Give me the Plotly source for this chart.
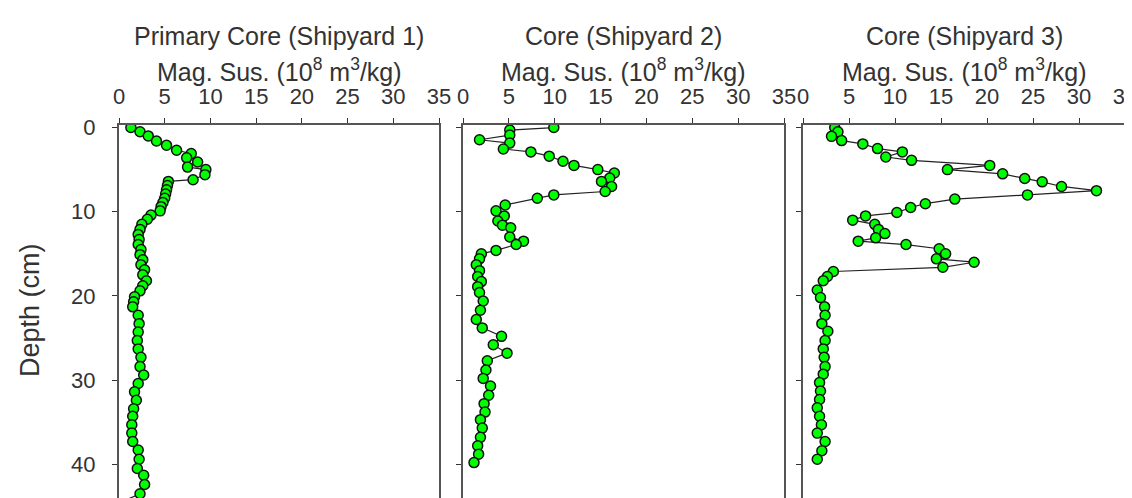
import plotly.graph_objects as go

# ---- data ----
titles = ["Primary Core (Shipyard 1)", "Core (Shipyard 2)", "Core (Shipyard 3)"]
x_label = "Mag. Sus. (10<sup>8</sup> m<sup>3</sup>/kg)"
y_label = "Depth (cm)"
x_ticks = [0, 5, 10, 15, 20, 25, 30, 35]
y_ticks = [0, 10, 20, 30, 40]

depth1 = [0.0, 0.5, 1.0, 1.6, 2.1, 2.7, 3.1, 3.6, 4.1, 4.7, 5.0, 5.6, 6.2, 6.4, 6.9, 7.4, 7.9, 8.4, 8.9, 9.4,
          9.9, 10.4, 10.9, 11.5, 12.1, 12.7, 13.3, 13.9, 14.5, 15.1, 15.7, 16.3, 16.9, 17.5, 18.2, 18.8, 19.4, 20.1, 20.7, 21.3,
          22.3, 23.3, 24.3, 25.3, 26.3, 27.3, 28.4, 29.4, 30.4, 31.4, 32.4, 33.4, 34.3, 35.3, 36.3, 37.3, 38.3, 39.4, 40.5, 41.3,
          42.4, 43.5, 44.6]
magsus1 = [1.3, 2.3, 3.2, 4.1, 5.2, 6.3, 7.9, 7.4, 8.6, 7.5, 9.5, 9.4, 8.1, 5.4, 5.3, 5.2, 5.1, 5.0, 4.8, 4.6,
           4.5, 3.5, 3.1, 2.5, 2.3, 2.1, 2.2, 2.1, 2.4, 2.3, 2.6, 2.4, 2.8, 2.6, 3.0, 2.6, 2.3, 1.7, 1.6, 1.5,
           2.1, 2.2, 2.1, 2.0, 2.1, 2.4, 2.3, 2.7, 2.1, 1.7, 1.9, 1.6, 1.5, 1.4, 1.4, 1.5, 2.1, 2.2, 2.0, 2.7,
           2.8, 2.3, 0.0]

depth2 = [0.0, 0.3, 0.9, 1.45, 1.85, 2.55, 2.9, 3.4, 4.0, 4.5, 5.0, 5.4, 6.0, 6.4, 7.0, 7.6, 8.0, 8.4, 9.2, 9.9,
          10.5, 11.1, 11.6, 11.9, 13.0, 13.5, 13.9, 14.6, 15.0, 15.6, 16.3, 17.0, 17.7, 18.3, 18.9, 19.6, 20.6, 21.7, 22.8, 23.8,
          24.8, 25.8, 26.8, 27.7, 28.8, 29.8, 30.7, 31.8, 32.8, 33.8, 34.7, 35.7, 36.8, 37.8, 38.8, 39.8]
magsus2 = [9.9, 5.1, 5.1, 1.8, 5.1, 4.4, 7.4, 9.4, 10.9, 12.1, 14.7, 16.5, 16.0, 15.1, 16.2, 15.5, 9.9, 8.1, 4.6, 3.6,
           4.5, 3.8, 4.3, 5.2, 5.1, 6.6, 5.8, 3.6, 2.0, 1.8, 1.45, 1.8, 1.6, 2.0, 1.6, 1.8, 2.2, 1.9, 1.45, 2.1,
           4.2, 3.3, 4.8, 2.65, 2.5, 2.2, 3.0, 2.8, 2.3, 2.4, 1.9, 2.1, 1.9, 1.6, 1.7, 1.2]

depth3 = [0.0, 0.5, 1.05, 1.55, 1.95, 2.5, 2.9, 3.5, 3.9, 4.5, 5.0, 5.5, 6.05, 6.45, 7.0, 7.5, 8.0, 8.5, 9.05, 9.5,
          10.1, 10.5, 11.0, 11.5, 12.1, 12.6, 13.1, 13.5, 13.9, 14.4, 15.0, 15.6, 16.0, 16.6, 17.1, 17.7, 18.2, 19.3, 20.2, 21.3,
          22.3, 23.3, 24.2, 25.3, 26.3, 27.3, 28.4, 29.3, 30.3, 31.3, 32.3, 33.3, 34.3, 35.3, 36.3, 37.3, 38.4, 39.4]
magsus3 = [3.45, 3.8, 3.1, 4.2, 6.5, 8.1, 10.8, 9.0, 11.8, 20.3, 15.7, 21.7, 24.1, 26.0, 28.1, 31.9, 24.4, 16.5, 13.3, 11.7,
           10.2, 6.8, 5.4, 7.8, 8.2, 8.9, 7.9, 6.0, 11.2, 14.8, 15.5, 14.5, 18.6, 15.2, 3.3, 2.65, 2.2, 1.55, 1.9, 2.35,
           2.4, 2.05, 2.7, 2.4, 2.2, 2.3, 2.4, 2.2, 1.8, 1.9, 1.8, 1.55, 1.8, 2.0, 1.55, 2.4, 2.05, 1.55]

series = [(magsus1, depth1), (magsus2, depth2), (magsus3, depth3)]

# ---- style / layout ----
W, H = 1132, 498
ML, MR, MT, MB = 111, 15, 117, 1
plot_w = W - ML - MR
plot_h = H - MT - MB
panel_px = [(111, 431), (455, 776), (795, 1117)]
domains = [((a - ML) / plot_w, (b - ML) / plot_w) for a, b in panel_px]

FONT = "Liberation Sans, Arial, sans-serif"
TXT = "#333333"
FRAME = "#555555"

fig = go.Figure()
for i, (xs, ys) in enumerate(series):
    sfx = "" if i == 0 else str(i + 1)
    sizes = [10] * len(xs)
    if i == 0:
        sizes[-1] = 0
    fig.add_trace(go.Scatter(
        x=xs, y=ys, mode="lines+markers", xaxis="x" + sfx, yaxis="y" + sfx,
        line=dict(color="#222222", width=1.2),
        marker=dict(size=sizes, color="#00ff00", opacity=1, line=dict(color="#111111", width=1.5)),
        showlegend=False, hoverinfo="x+y"))

layout = dict(width=W, height=H, margin=dict(l=ML, r=MR, t=MT, b=MB, pad=0),
              paper_bgcolor="white", plot_bgcolor="white",
              font=dict(family=FONT, color=TXT))
ann = []
for i in range(3):
    sfx = "" if i == 0 else str(i + 1)
    layout["xaxis" + sfx] = dict(
        domain=list(domains[i]), anchor="y" + sfx, side="top", range=[0, 35],
        tickvals=x_ticks, ticks="outside", ticklen=5, tickwidth=1, tickcolor=TXT,
        showline=True, linecolor=FRAME, linewidth=2, mirror=True,
        showgrid=False, zeroline=False, tickfont=dict(size=22, family=FONT, color=TXT),
        ticklabelstandoff=5)
    layout["yaxis" + sfx] = dict(
        domain=[0, 1], anchor="x" + sfx, range=[44.6, -0.3],
        tickvals=y_ticks, ticks="outside", ticklen=5, tickwidth=1, tickcolor=TXT,
        showline=True, linecolor=FRAME, linewidth=2, mirror=True,
        showgrid=False, zeroline=False, showticklabels=(i == 0),
        tickfont=dict(size=22, family=FONT, color=TXT), ticklabelstandoff=12)
    cx = (domains[i][0] + domains[i][1]) / 2
    ann.append(dict(text=titles[i], x=cx, y=(H - MB - 28) / plot_h, xref="paper", yref="paper",
                    xanchor="center", yanchor="middle", showarrow=False,
                    font=dict(size=25, family=FONT, color=TXT)))
    ann.append(dict(text=x_label, x=cx, y=(H - MB - 62) / plot_h, xref="paper", yref="paper",
                    xanchor="center", yanchor="middle", showarrow=False,
                    font=dict(size=25, family=FONT, color=TXT)))
ann.append(dict(text=y_label, x=(22 - ML) / plot_w, y=(H - MB - 303) / plot_h, xref="paper", yref="paper",
                xanchor="center", yanchor="middle", textangle=-90, showarrow=False,
                font=dict(size=27, family=FONT, color=TXT)))
layout["annotations"] = ann
fig.update_layout(**layout)
fig.write_html("out.html")
